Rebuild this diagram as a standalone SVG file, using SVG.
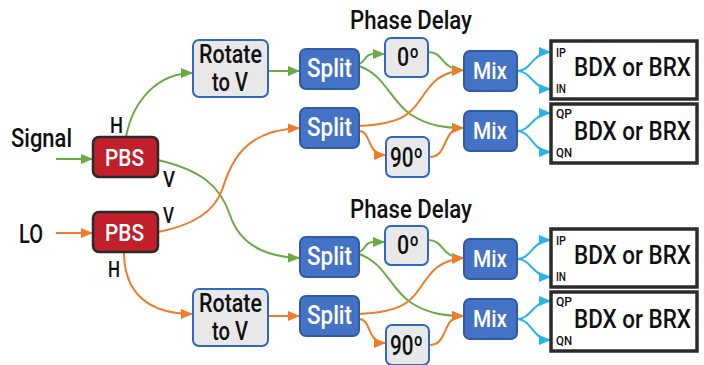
<svg xmlns="http://www.w3.org/2000/svg" width="704" height="365" viewBox="0 0 704 365">
<defs>
<style>
text{font-family:Roboto,"Liberation Sans",Arial,sans-serif;font-weight:500;fill:#111}
.lbl{font-size:25px}
.pl{font-size:22px}
.w{fill:#fff;font-size:26px}
.pb{fill:#fff;font-size:24px}
.k{font-size:25px}
.big{font-size:25px}
.sm{font-size:12.5px}
.blue{fill:#4472c4;stroke:#2f5aa5;stroke-width:2}
.gray{fill:#e8e8e8;stroke:#2e68c0;stroke-width:2}
.red{fill:#c11f2a;stroke:#2a2a2a;stroke-width:2.5}
.out{fill:#fff;stroke:#2b2b2b;stroke-width:3.5}
.c path{fill:none;stroke-width:2}
.g{stroke:#6aaa46}
.o{stroke:#f07c2a}
.cy{stroke:#27b4e8}
</style>
<marker id="ag" markerUnits="userSpaceOnUse" markerWidth="12" markerHeight="10" refX="12" refY="5" orient="auto"><path d="M0,0L12,5L0,10z" fill="#6aaa46"/></marker>
<marker id="ao" markerUnits="userSpaceOnUse" markerWidth="12" markerHeight="10" refX="12" refY="5" orient="auto"><path d="M0,0L12,5L0,10z" fill="#f07c2a"/></marker>
<marker id="ac" markerUnits="userSpaceOnUse" markerWidth="12" markerHeight="10" refX="12" refY="5" orient="auto"><path d="M0,0L12,5L0,10z" fill="#27b4e8"/></marker>
</defs>
<rect width="704" height="365" fill="#fff"/>

<g id="connectors" class="c">
<path class="g" d="M56,159H93" marker-end="url(#ag)"/>
<path class="g" d="M126,137C133,100 158,73 193,73" marker-end="url(#ag)"/>
<path class="g" d="M268,71H300" marker-end="url(#ag)"/>
<path class="g" d="M158,160C200,170 220,185 230,215C240,245 265,257 300,258" marker-end="url(#ag)"/>
<path class="o" d="M158,232C195,225 215,210 222,190C232,160 245,130 300,128" marker-end="url(#ao)"/>
<path class="o" d="M56,233H93" marker-end="url(#ao)"/>
<path class="o" d="M124,252C124,292 147,314 193,314" marker-end="url(#ao)"/>
<path class="o" d="M268,316H300" marker-end="url(#ao)"/>
<g id="conn-top">
<path class="g" d="M359,64C366,62 364,54 374,54L385,54" marker-end="url(#ag)"/>
<path class="g" d="M428,52C445,52 440,70 464,70" marker-end="url(#ag)"/>
<path class="g" d="M359,66C385,75 390,100 410,114C428,126 445,128 464,128" marker-end="url(#ag)"/>
<path class="o" d="M359,126C400,124 410,115 420,100C432,82 440,72 464,70" marker-end="url(#ao)"/>
<path class="o" d="M359,131C372,131 366,155 386,155" marker-end="url(#ao)"/>
<path class="o" d="M429,157C450,157 440,128 464,128" marker-end="url(#ao)"/>
<path class="cy" d="M517,71C532,71 532,52 551,52" marker-end="url(#ac)"/>
<path class="cy" d="M517,71C532,71 532,89 551,89" marker-end="url(#ac)"/>
<path class="cy" d="M517,131C532,131 532,113 551,113" marker-end="url(#ac)"/>
<path class="cy" d="M517,131C532,131 532,152 551,152" marker-end="url(#ac)"/>
</g>
<g id="conn-bottom" transform="translate(0,188)">
<path class="g" d="M359,64C366,62 364,54 374,54L385,54" marker-end="url(#ag)"/>
<path class="g" d="M428,52C445,52 440,70 464,70" marker-end="url(#ag)"/>
<path class="g" d="M359,66C385,75 390,100 410,114C428,126 445,128 464,128" marker-end="url(#ag)"/>
<path class="o" d="M359,126C400,124 410,115 420,100C432,82 440,72 464,70" marker-end="url(#ao)"/>
<path class="o" d="M359,131C372,131 366,155 386,155" marker-end="url(#ao)"/>
<path class="o" d="M429,157C450,157 440,128 464,128" marker-end="url(#ao)"/>
<path class="cy" d="M517,71C532,71 532,52 551,52" marker-end="url(#ac)"/>
<path class="cy" d="M517,71C532,71 532,89 551,89" marker-end="url(#ac)"/>
<path class="cy" d="M517,131C532,131 532,113 551,113" marker-end="url(#ac)"/>
<path class="cy" d="M517,131C532,131 532,152 551,152" marker-end="url(#ac)"/>
</g>
</g>

<g id="labels">
<text class="lbl" x="11" y="147" textLength="61" lengthAdjust="spacingAndGlyphs">Signal</text>
<text class="lbl" x="19" y="243" textLength="24" lengthAdjust="spacingAndGlyphs">LO</text>
<text class="pl" x="110" y="133" textLength="13" lengthAdjust="spacingAndGlyphs">H</text>
<text class="pl" x="163" y="187" textLength="12" lengthAdjust="spacingAndGlyphs">V</text>
<text class="pl" x="163" y="223" textLength="11" lengthAdjust="spacingAndGlyphs">V</text>
<text class="pl" x="108" y="277" textLength="12" lengthAdjust="spacingAndGlyphs">H</text>
<text class="lbl" x="350" y="29" textLength="122" lengthAdjust="spacingAndGlyphs">Phase Delay</text>
<text class="lbl" x="350" y="218" textLength="122" lengthAdjust="spacingAndGlyphs">Phase Delay</text>
</g>

<g id="pbs-signal"><rect class="red" x="93" y="137" width="65" height="40" rx="6"/><text class="pb" x="105" y="166" textLength="39" lengthAdjust="spacingAndGlyphs">PBS</text></g>
<g id="pbs-lo"><rect class="red" x="93" y="212" width="65" height="40" rx="6"/><text class="pb" x="105" y="241" textLength="39" lengthAdjust="spacingAndGlyphs">PBS</text></g>
<g id="rotate-signal"><rect class="gray" x="193" y="40" width="75" height="57" rx="6"/><text class="k" x="199" y="63" textLength="63" lengthAdjust="spacingAndGlyphs">Rotate</text><text class="k" x="212" y="91" textLength="36" lengthAdjust="spacingAndGlyphs">to V</text></g>
<g id="rotate-lo"><rect class="gray" x="193" y="289" width="75" height="57" rx="6"/><text class="k" x="199" y="312" textLength="63" lengthAdjust="spacingAndGlyphs">Rotate</text><text class="k" x="212" y="340" textLength="36" lengthAdjust="spacingAndGlyphs">to V</text></g>

<g id="top-half">
<g id="split1"><rect class="blue" x="300" y="49" width="59" height="40" rx="6"/><text class="w" x="307" y="77" textLength="45" lengthAdjust="spacingAndGlyphs">Split</text></g>
<g id="split2"><rect class="blue" x="300" y="108" width="59" height="40" rx="6"/><text class="w" x="307" y="136" textLength="45" lengthAdjust="spacingAndGlyphs">Split</text></g>
<g id="d0"><rect class="gray" x="385" y="38" width="43" height="39" rx="6"/><text class="k" x="397" y="66" textLength="22" lengthAdjust="spacingAndGlyphs" style="font-size:26px">0º</text></g>
<g id="d90"><rect class="gray" x="386" y="137" width="43" height="40" rx="6"/><text class="k" x="390" y="167" textLength="33" lengthAdjust="spacingAndGlyphs" style="font-size:27px">90º</text></g>
<g id="mix1"><rect class="blue" x="464" y="51" width="53" height="40" rx="6"/><text class="w" x="473" y="79" textLength="34" lengthAdjust="spacingAndGlyphs" style="font-size:24px">Mix</text></g>
<g id="mix2"><rect class="blue" x="464" y="111" width="53" height="40" rx="6"/><text class="w" x="473" y="139" textLength="34" lengthAdjust="spacingAndGlyphs" style="font-size:24px">Mix</text></g>
<g id="bdx1"><rect class="out" x="551" y="41" width="146" height="58"/><text class="big" x="574" y="76" textLength="117" lengthAdjust="spacingAndGlyphs">BDX or BRX</text><text class="sm" x="556" y="57" textLength="10" lengthAdjust="spacingAndGlyphs">IP</text><text class="sm" x="556" y="93" textLength="10" lengthAdjust="spacingAndGlyphs">IN</text></g>
<g id="bdx2"><rect class="out" x="551" y="104" width="146" height="59"/><text class="big" x="574" y="140" textLength="117" lengthAdjust="spacingAndGlyphs">BDX or BRX</text><text class="sm" x="556" y="118" textLength="16" lengthAdjust="spacingAndGlyphs">QP</text><text class="sm" x="556" y="157" textLength="16" lengthAdjust="spacingAndGlyphs">QN</text></g>
</g>

<g id="bottom-half" transform="translate(0,188)">
<g id="split3"><rect class="blue" x="300" y="49" width="59" height="40" rx="6"/><text class="w" x="307" y="77" textLength="45" lengthAdjust="spacingAndGlyphs">Split</text></g>
<g id="split4"><rect class="blue" x="300" y="108" width="59" height="40" rx="6"/><text class="w" x="307" y="136" textLength="45" lengthAdjust="spacingAndGlyphs">Split</text></g>
<g id="d0b"><rect class="gray" x="385" y="38" width="43" height="39" rx="6"/><text class="k" x="397" y="66" textLength="22" lengthAdjust="spacingAndGlyphs" style="font-size:26px">0º</text></g>
<g id="d90b"><rect class="gray" x="386" y="137" width="43" height="40" rx="6"/><text class="k" x="390" y="167" textLength="33" lengthAdjust="spacingAndGlyphs" style="font-size:27px">90º</text></g>
<g id="mix3"><rect class="blue" x="464" y="51" width="53" height="40" rx="6"/><text class="w" x="473" y="79" textLength="34" lengthAdjust="spacingAndGlyphs" style="font-size:24px">Mix</text></g>
<g id="mix4"><rect class="blue" x="464" y="111" width="53" height="40" rx="6"/><text class="w" x="473" y="139" textLength="34" lengthAdjust="spacingAndGlyphs" style="font-size:24px">Mix</text></g>
<g id="bdx3"><rect class="out" x="551" y="41" width="146" height="58"/><text class="big" x="574" y="76" textLength="117" lengthAdjust="spacingAndGlyphs">BDX or BRX</text><text class="sm" x="556" y="57" textLength="10" lengthAdjust="spacingAndGlyphs">IP</text><text class="sm" x="556" y="93" textLength="10" lengthAdjust="spacingAndGlyphs">IN</text></g>
<g id="bdx4"><rect class="out" x="551" y="104" width="146" height="59"/><text class="big" x="574" y="140" textLength="117" lengthAdjust="spacingAndGlyphs">BDX or BRX</text><text class="sm" x="556" y="118" textLength="16" lengthAdjust="spacingAndGlyphs">QP</text><text class="sm" x="556" y="157" textLength="16" lengthAdjust="spacingAndGlyphs">QN</text></g>
</g>
</svg>
